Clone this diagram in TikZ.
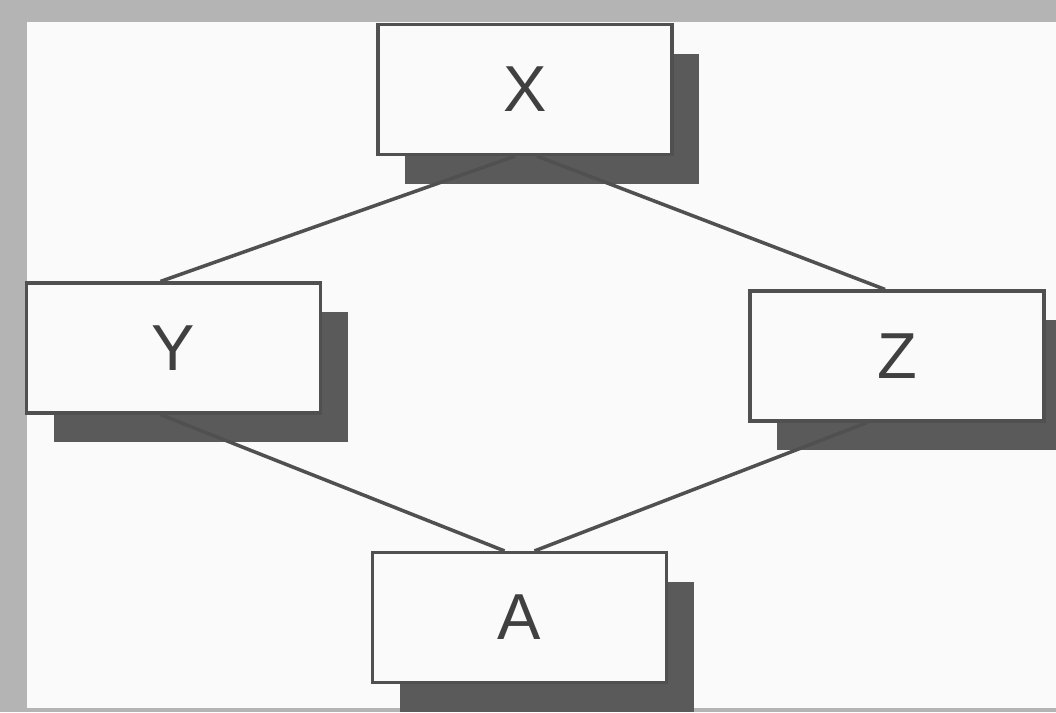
\documentclass[tikz,border=0pt]{standalone}
\usepackage{fontspec}
\setmainfont{Liberation Sans}
\usepackage{tikz}
\usetikzlibrary{positioning, shadows}

\definecolor{frame}{HTML}{B4B4B4}
\definecolor{paper}{HTML}{FAFAFA}
\definecolor{edge}{HTML}{505050}
\definecolor{shade}{HTML}{5A5A5A}

\begin{document}
\begin{tikzpicture}[
        box/.style={rectangle, draw=edge, fill=paper, line width=0.9pt, minimum width=2.94cm, minimum height=1.3cm, align=center, font=\fontsize{18.5}{22}\selectfont, text=black!75,
            drop shadow={shadow xshift=0.27cm, shadow yshift=-0.29cm, fill=shade, opacity=1}},
        link/.style={line width=1pt, edge}
    ]
        % Background
        \useasboundingbox (0,0) rectangle (10.56,-7.12);
        \fill[frame] (0,0) rectangle (10.56,-7.12);
        \fill[paper] (0.27,-0.22) rectangle (10.56,-7.08);

        % Boxes
        \node[box] (x) at (5.25,-0.895) {X};
        \node[box] (y) at (1.735,-3.48) {Y};
        \node[box] (z) at (8.97,-3.56) {Z};
        \node[box] (a) at (5.195,-6.175) {A};

        % Links
        \draw[link] ([xshift=-0.1cm]x.south) -- ([xshift=-0.13cm]y.north);
        \draw[link] ([xshift=0.12cm]x.south) -- ([xshift=-0.12cm]z.north);
        \draw[link] ([xshift=-0.13cm]y.south) -- ([xshift=-0.15cm]a.north);
        \draw[link] ([xshift=-0.3cm]z.south) -- ([xshift=0.15cm]a.north);

    \end{tikzpicture}
\end{document}
